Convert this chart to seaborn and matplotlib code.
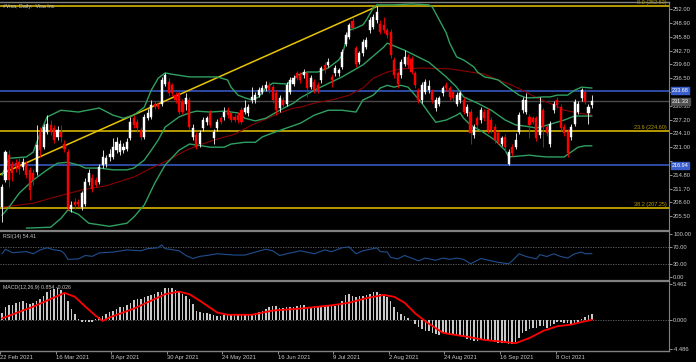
import numpy as np
import matplotlib
matplotlib.use('Agg')
import matplotlib.pyplot as plt
import seaborn as sns

# ---- daily candles, 22 Feb 2021 .. 21 Oct 2021 ----
opens = [207.6, 213.6, 219.2, 217.3, 217.5, 217.7, 216.6, 217.0, 215.8, 215.1,
         215.5, 224.1, 221.1, 224.5, 226.0, 225.2, 223.3, 224.5, 221.8, 220.0,
         207.2, 208.7, 208.7, 207.6, 208.3, 213.2, 214.0, 213.6, 213.2, 217.0,
         217.3, 218.8, 218.8, 220.3, 220.0, 220.3, 220.7, 223.0, 227.5, 226.7,
         224.8, 223.3, 227.5, 227.8, 230.8, 230.8, 230.8, 235.3, 235.7, 235.0,
         232.7, 233.1, 231.2, 230.8, 231.6, 223.3, 223.7, 221.8, 225.2, 226.7,
         228.6, 223.0, 225.2, 227.5, 227.8, 229.3, 228.6, 227.8, 228.2, 229.3,
         229.0, 228.6, 231.6, 231.6, 232.7, 233.5, 234.2, 235.0, 234.6, 233.1,
         229.7, 231.6, 230.8, 233.5, 235.3, 237.6, 237.2, 237.2, 237.6, 234.6,
         235.7, 235.0, 236.1, 239.5, 239.5, 236.8, 237.6, 237.6, 239.1, 244.3,
         245.8, 249.4, 243.2, 240.2, 242.1, 243.6, 247.3, 248.1, 249.6, 248.8,
         248.5, 247.3, 247.0, 240.6, 237.6, 237.2, 239.8, 241.3, 240.9, 237.6,
         233.8, 231.6, 233.5, 233.8, 233.5, 229.7, 230.8, 233.1, 235.0, 234.2,
         233.5, 230.8, 231.6, 231.6, 228.6, 229.0, 223.7, 227.5, 227.1, 229.0,
         229.3, 227.1, 225.6, 224.1, 221.8, 223.3, 217.3, 221.1, 221.1, 224.5,
         229.3, 229.0, 227.8, 227.5, 227.5, 223.7, 229.3, 225.6, 221.8, 229.3,
         231.6, 230.1, 225.6, 224.5, 223.3, 226.3, 229.0, 232.0, 233.5, 228.6,
         230.5]
highs = [212.8, 220.3, 220.3, 218.0, 218.3, 218.5, 218.5, 218.0, 216.5, 216.0,
         226.0, 225.6, 226.3, 228.2, 227.0, 226.0, 225.8, 226.0, 222.5, 220.5,
         209.0, 209.5, 209.3, 211.2, 214.0, 216.0, 215.0, 214.2, 217.3, 220.3,
         219.3, 220.5, 223.0, 223.2, 222.6, 222.0, 223.0, 227.8, 228.2, 227.3,
         225.5, 228.5, 229.5, 231.5, 231.3, 231.0, 236.8, 237.7, 236.5, 235.5,
         233.5, 233.6, 231.8, 233.1, 232.2, 226.3, 224.3, 224.8, 227.8, 228.0,
         229.3, 225.0, 227.3, 228.0, 230.1, 230.0, 229.2, 228.5, 228.8, 230.0,
         231.6, 230.8, 234.6, 233.4, 234.5, 235.0, 235.8, 235.6, 235.2, 233.8,
         232.7, 232.2, 235.7, 236.8, 237.2, 238.2, 237.8, 238.6, 238.2, 237.2,
         236.3, 235.6, 239.3, 240.1, 241.0, 237.4, 239.5, 238.9, 243.0, 246.8,
         249.0, 250.0, 243.8, 242.7, 245.3, 245.8, 250.2, 250.9, 252.7, 249.5,
         250.3, 247.9, 247.6, 241.2, 238.2, 240.8, 242.8, 241.9, 241.5, 238.2,
         234.4, 235.6, 236.3, 236.1, 234.1, 232.2, 232.6, 234.8, 235.6, 234.8,
         234.1, 233.3, 233.7, 232.2, 230.7, 229.6, 226.2, 228.1, 230.1, 229.6,
         229.9, 227.7, 226.2, 224.7, 223.6, 223.9, 220.6, 221.7, 224.1, 228.8,
         232.2, 233.1, 228.4, 228.1, 228.1, 232.3, 229.9, 226.2, 226.9, 231.4,
         232.2, 230.7, 226.2, 225.1, 226.2, 231.8, 231.4, 234.4, 234.1, 230.7,
         232.7]
lows = [204.2, 213.2, 212.1, 213.5, 215.5, 215.0, 215.8, 214.0, 209.1, 212.5,
        214.8, 218.8, 220.5, 224.0, 223.8, 222.0, 222.5, 222.2, 220.0, 206.9,
        206.5, 207.2, 207.6, 206.9, 207.8, 212.6, 211.0, 212.0, 212.7, 216.3,
        216.5, 218.0, 218.3, 219.6, 219.3, 219.8, 220.2, 222.5, 225.3, 224.5,
        222.7, 222.8, 227.0, 227.3, 229.5, 229.6, 230.3, 234.8, 232.5, 232.6,
        231.0, 228.5, 228.4, 229.3, 225.0, 222.6, 220.7, 221.0, 224.6, 226.0,
        225.5, 221.8, 224.7, 226.1, 227.2, 227.6, 226.6, 226.6, 226.5, 226.1,
        228.5, 228.0, 231.0, 231.0, 232.2, 233.0, 233.7, 233.2, 231.0, 228.2,
        229.0, 230.0, 230.3, 233.0, 234.8, 236.0, 235.5, 236.6, 232.3, 234.0,
        233.2, 233.2, 235.5, 237.7, 239.0, 234.6, 237.0, 237.0, 238.6, 243.7,
        245.3, 247.3, 239.1, 239.6, 241.5, 243.0, 246.7, 247.5, 249.0, 246.4,
        246.7, 245.6, 241.1, 236.6, 234.2, 236.6, 239.2, 238.9, 237.4, 234.4,
        231.0, 231.0, 233.0, 233.2, 231.0, 229.1, 230.2, 232.5, 233.6, 231.7,
        231.4, 230.2, 231.0, 228.4, 228.0, 221.8, 223.1, 225.4, 226.5, 226.9,
        224.2, 224.2, 222.0, 221.6, 221.2, 220.0, 217.1, 219.0, 220.5, 223.9,
        228.7, 228.4, 223.0, 226.1, 222.4, 223.1, 221.1, 223.5, 221.1, 228.7,
        229.9, 224.6, 223.5, 218.8, 222.7, 225.7, 228.4, 231.4, 230.6, 226.3,
        229.9]
closes = [212.1, 220.0, 213.6, 215.1, 216.6, 216.2, 217.7, 214.7, 211.3, 213.6,
          221.5, 220.3, 225.6, 226.3, 224.5, 222.6, 224.8, 223.3, 220.7, 207.6,
          208.0, 208.0, 208.2, 210.6, 213.2, 215.1, 211.7, 212.5, 216.6, 218.8,
          218.5, 219.4, 221.1, 222.2, 221.8, 221.1, 222.2, 226.7, 226.0, 225.2,
          223.3, 227.8, 228.6, 230.5, 230.1, 230.1, 236.1, 237.2, 233.1, 233.1,
          231.6, 229.0, 229.0, 232.0, 225.6, 225.2, 221.1, 224.1, 227.1, 227.5,
          226.0, 224.5, 226.7, 226.7, 229.0, 228.2, 227.1, 227.1, 227.1, 226.7,
          229.7, 230.1, 232.3, 232.7, 233.8, 234.2, 235.0, 233.8, 231.6, 229.3,
          232.0, 230.5, 235.0, 236.1, 236.5, 236.5, 236.1, 238.0, 234.2, 236.5,
          233.8, 233.8, 238.7, 238.3, 240.2, 236.1, 238.7, 238.3, 242.5, 246.2,
          248.5, 247.9, 239.8, 242.1, 244.7, 245.1, 249.6, 250.3, 251.5, 247.0,
          247.3, 246.2, 241.7, 237.2, 235.3, 240.2, 241.3, 239.5, 238.0, 235.0,
          231.6, 235.0, 235.7, 234.7, 231.6, 231.6, 232.0, 234.2, 234.2, 232.3,
          232.0, 232.7, 233.1, 229.0, 230.1, 224.1, 225.6, 226.0, 229.3, 227.5,
          224.8, 224.8, 222.6, 222.2, 223.0, 221.1, 220.0, 219.6, 222.6, 228.2,
          231.6, 231.6, 226.0, 226.7, 223.0, 230.8, 225.6, 224.1, 226.3, 230.8,
          230.5, 225.2, 224.1, 219.6, 225.6, 231.2, 230.8, 233.8, 231.2, 230.1,
          231.3]

date_labels = ['22 Feb 2021', '16 Mar 2021', '8 Apr 2021', '30 Apr 2021', '24 May 2021',
               '16 Jun 2021', '9 Jul 2021', '2 Aug 2021', '24 Aug 2021', '16 Sep 2021',
               '8 Oct 2021']

# Bollinger bands (20,2) and the dark red moving average, sampled at bar numbers
bb_upper_bar = [0, 2, 7, 9, 11, 13, 17, 22, 28, 32, 35, 38, 41, 43, 45, 47, 49, 54, 62, 65,
                66, 68, 70, 72, 74, 76, 78, 82, 84, 85, 88, 91, 94, 97, 98, 100, 102, 104, 105,
                107, 108, 113, 118, 123, 124, 126, 128, 129, 131, 133, 134, 136, 137, 139, 141,
                143, 145, 147, 149, 151, 153, 156, 158, 160, 163, 165, 167, 170]
bb_upper = [214.7, 218.5, 218.8, 219.9, 224.2, 227.8, 229.3, 228.9, 229.8, 228.2, 227.5,
            228.2, 230.0, 233.8, 236.5, 237.7, 237.4, 236.8, 236.8, 236.1, 234.5, 232.7,
            232.1, 231.6, 232.3, 234.3, 235.4, 235.2, 236.1, 237.2, 237.9, 237.9, 238.8,
            240.6, 241.7, 247.3, 247.8, 248.5, 249.6, 252.3, 253.0, 253.0, 253.2, 253.0,
            252.5, 249.6, 246.7, 244.4, 241.3, 240.6, 240.1, 239.0, 237.9, 236.8, 236.5,
            236.1, 234.9, 233.8, 232.7, 232.1, 232.1, 232.3, 232.3, 232.7, 232.7, 233.8,
            234.5, 234.3]
bb_mid_bar = [0, 2, 5, 9, 13, 16, 19, 22, 24, 28, 32, 36, 38, 41, 43, 45, 47, 51, 54, 56,
              60, 64, 68, 70, 73, 76, 80, 84, 86, 90, 98, 104, 110, 111, 116, 123, 128, 131,
              133, 137, 141, 145, 148, 151, 154, 156, 159, 162, 165, 170]
bb_mid = [205.7, 207.5, 210.7, 213.6, 215.9, 217.4, 217.6, 217.0, 216.3, 216.3, 215.9,
          215.9, 216.3, 218.1, 220.3, 222.6, 225.5, 227.8, 228.7, 229.1, 228.9, 229.1,
          228.7, 227.5, 226.9, 227.5, 229.3, 230.9, 232.1, 233.8, 236.8, 239.5, 243.5,
          244.4, 242.8, 240.1, 236.8, 234.5, 232.3, 230.9, 229.3, 227.1, 226.0, 225.7,
          225.3, 225.7, 226.4, 227.1, 228.0, 228.0]
bb_lower_bar = [7, 14, 17, 19, 22, 25, 31, 36, 38, 41, 44, 47, 51, 54, 56, 60, 64, 66, 70,
                73, 75, 78, 82, 86, 90, 94, 98, 102, 104, 107, 109, 111, 113, 115, 117, 119,
                121, 123, 125, 128, 131, 132, 133, 135, 139, 142, 145, 146, 149, 152, 154,
                157, 160, 162, 164, 166, 168, 170]
bb_lower = [202.8, 203.0, 205.0, 206.9, 205.9, 203.9, 203.2, 203.9, 205.3, 208.0, 212.9,
            217.0, 220.3, 221.7, 221.5, 221.0, 221.0, 221.7, 222.1, 222.1, 223.3, 224.2,
            225.3, 226.4, 228.2, 229.3, 229.3, 228.9, 231.6, 232.7, 234.3, 234.9, 234.5,
            234.9, 234.5, 232.7, 230.9, 228.7, 226.6, 227.1, 228.2, 228.7, 227.5, 226.0,
            224.2, 222.6, 220.3, 218.8, 219.0, 219.2, 219.0, 218.8, 218.8, 218.8, 219.9,
            221.0, 221.3, 221.3]
ma_bar = [0, 9, 14, 23, 30, 38, 43, 48, 53, 57, 61, 67, 72, 76, 80, 84, 86, 90, 96, 100,
          104, 107, 111, 115, 121, 129, 135, 139, 143, 147, 151, 154, 159, 162, 166, 170]
ma_val = [207.5, 208.4, 209.5, 211.4, 212.3, 214.3, 216.3, 218.1, 220.3, 221.5, 222.6,
          223.9, 226.0, 227.3, 228.7, 229.8, 230.0, 230.9, 231.8, 232.7, 234.3, 236.5,
          237.9, 238.6, 238.8, 238.6, 237.9, 237.4, 236.1, 234.9, 233.4, 232.1, 230.5,
          229.3, 228.7, 228.2]

# trend line and horizontal levels
trend_bar = [-1, 108]
trend_val = [214.7, 252.63]
fib_levels = [252.63, 224.60, 207.25]
fib_labels = ['0.0 (252.63)', '23.6 (224.60)', '38.2 (207.25)']
blue_levels = [233.68, 216.94]
last_price = 231.33
price_ticks = [252.00, 248.90, 245.80, 242.70, 239.60, 236.50, 233.40, 230.30, 227.20,
               224.10, 221.00, 217.90, 214.80, 211.70, 208.60, 205.50]
hidden_ticks = [233.40, 217.90]   # covered by the blue level boxes in the terminal

# RSI(14), sampled
rsi_bar = [0, 1, 3, 7, 9, 11, 13, 15, 17, 18, 19, 22, 24, 26, 28, 32, 36, 40, 42, 45, 46,
           47, 51, 53, 55, 57, 59, 62, 67, 70, 73, 76, 78, 80, 82, 86, 90, 93, 95, 98, 100,
           102, 104, 107, 108, 109, 111, 112, 114, 116, 118, 120, 122, 125, 127, 129, 131,
           133, 135, 138, 141, 143, 146, 147, 149, 151, 153, 154, 155, 157, 159, 161, 163,
           165, 167, 168, 170]
rsi_val = [54, 64.6, 56.4, 59, 54, 63, 68, 63, 61, 54, 41, 42, 50, 48, 56, 58, 63, 61, 66,
           68, 74.7, 66, 61, 50, 43, 48, 50, 54, 51, 51, 58, 64.6, 61, 50, 54, 61, 54, 63,
           59, 68, 70, 54, 61, 66, 68, 59, 58, 45.6, 42, 50, 44, 37.5, 44, 39, 44, 41, 44,
           41, 30.7, 43, 37.5, 34, 30.7, 37.5, 54, 47.6, 44, 42, 52, 47.6, 54, 47.6, 44,
           54, 58, 54, 54.41]

# MACD(12,26,9): histogram per bar and signal line samples
macd_hist = [1.0, 1.9, 2.2, 2.3, 2.5, 2.7, 2.8, 2.6, 2.4, 2.6,
             2.9, 3.2, 3.7, 4.3, 4.6, 4.7, 4.8, 4.6, 4.1, 2.8,
             1.7, 0.8, 0.1, -0.35, -0.4, -0.4, -0.4, 0.15, 0.35, 0.6,
             0.85, 1.2, 1.4, 1.7, 1.9, 2.0, 2.3, 2.6, 3.0, 3.2,
             3.2, 3.4, 3.6, 3.8, 4.0, 4.2, 4.3, 4.9, 4.9, 4.8,
             4.6, 4.2, 4.0, 3.7, 3.2, 2.4, 1.4, 1.2, 1.0, 1.0,
             0.85, 0.65, 0.5, 0.5, 0.65, 0.65, 0.7, 0.7, 0.75, 0.7,
             0.75, 0.8, 0.9, 1.0, 1.2, 1.4, 1.7, 2.0, 2.1, 2.1,
             1.8, 1.8, 1.9, 1.9, 2.0, 2.1, 2.2, 2.2, 2.0, 2.0,
             2.1, 2.0, 2.0, 2.1, 2.2, 2.2, 2.1, 2.3, 2.8, 3.8,
             3.9, 3.7, 3.5, 3.6, 3.7, 3.8, 3.9, 4.2, 4.2, 3.9,
             3.7, 3.5, 2.8, 2.0, 1.2, 0.9, 0.6, 0.2, -0.1, -0.6,
             -1.1, -1.5, -1.7, -1.8, -2.0, -2.2, -2.3, -2.0, -2.0, -2.3,
             -2.3, -2.3, -2.4, -2.7, -2.9, -3.1, -3.2, -3.3, -3.1, -3.1,
             -3.3, -3.3, -3.4, -3.5, -3.6, -3.6, -3.7, -3.7, -3.4, -2.8,
             -2.0, -1.7, -1.4, -1.3, -1.2, -1.0, -1.0, -1.2, -1.0, -0.65,
             -0.35, -0.35, -0.5, -0.5, -0.65, -0.6, -0.3, 0.1, 0.4, 0.7,
             0.854]
signal_bar = [0, 9, 18, 21, 24, 27, 29, 31, 38, 47, 51, 54, 57, 62, 65, 72, 78, 86, 95,
              100, 105, 110, 113, 116, 119, 122, 125, 127, 129, 134, 139, 143, 148, 152,
              156, 160, 164, 167, 170]
signal_val = [0.2, 2.0, 4.1, 3.5, 2.0, 0.6, -0.2, 0.35, 1.7, 3.9, 4.3, 3.9, 2.9, 1.1, 0.75,
              0.75, 1.4, 1.7, 2.2, 2.6, 3.3, 3.8, 3.5, 2.6, 1.0, -0.25, -1.3, -2.0, -2.2,
              -2.6, -3.1, -3.3, -3.6, -2.8, -1.7, -1.0, -0.75, -0.35, -0.026]

# ---- style ----
sns.set_style('dark')
plt.rcParams['font.family'] = ['Liberation Sans', 'DejaVu Sans']
FG = '#c8c8c8'
GRID = '#808080'
YELLOW = '#e8c400'
BLUE = '#3a5fcd'
GREEN = '#2fa060'

fig = plt.figure(figsize=(6.96, 3.62), dpi=100, facecolor='black')
W = 669 / 696
ax = fig.add_axes([0, 1 - 229 / 362, W, 227 / 362])
ax_rsi = fig.add_axes([0, 1 - 279 / 362, W, 48 / 362])
ax_macd = fig.add_axes([0, 1 - 351 / 362, W, 70 / 362])

for a in (ax, ax_rsi, ax_macd):
    a.set_facecolor('black')
    a.set_xlim(-0.58, 192.2)
    a.grid(False)
    for s in ('left', 'bottom'):
        a.spines[s].set_visible(False)
    a.spines['top'].set_color(GRID)
    a.spines['top'].set_linewidth(1.6)
    a.spines['right'].set_color(GRID)
    a.spines['right'].set_linewidth(0.8)
    a.yaxis.tick_right()
    a.tick_params(axis='y', colors=FG, labelsize=4.2, length=2, width=0.5, pad=1)
    a.tick_params(axis='x', bottom=False, labelbottom=False)
ax.spines['top'].set_linewidth(1.0)
ax_macd.spines['bottom'].set_visible(True)
ax_macd.spines['bottom'].set_color(GRID)
ax_macd.spines['bottom'].set_linewidth(1.0)

# ---- main price panel ----
ax.set_ylim(202.6, 253.64)
ax.set_yticks(price_ticks)
ax.set_yticklabels(['' if v in hidden_ticks else f'{v:.2f}' for v in price_ticks])

for lvl in fib_levels:
    ax.axhline(lvl, color=YELLOW, lw=1.1, zorder=2)
for lvl, lab in zip(fib_levels, fib_labels):
    ax.text(0.997, lvl + 0.35, lab, transform=ax.get_yaxis_transform(), ha='right',
            va='bottom', fontsize=4, color='#b89a00', zorder=6)
for lvl in blue_levels:
    ax.axhline(lvl, color=BLUE, lw=1.1, zorder=2)
ax.axhline(last_price, color='#4a4a4a', lw=1.0, zorder=1.5)

sns.lineplot(x=trend_bar, y=trend_val, ax=ax, color=YELLOW, linewidth=1.1,
             estimator=None, sort=False, legend=False)
sns.lineplot(x=ma_bar, y=ma_val, ax=ax, color='#8b0000', linewidth=0.8,
             estimator=None, sort=False, legend=False)
for bx, by in ((bb_upper_bar, bb_upper), (bb_mid_bar, bb_mid), (bb_lower_bar, bb_lower)):
    sns.lineplot(x=bx, y=by, ax=ax, color=GREEN, linewidth=1.0,
                 estimator=None, sort=False, legend=False)

idx = np.arange(len(closes))
o = np.array(opens)
c = np.array(closes)
up = c >= o
cols = np.where(up, 'white', '#ff0000')
ax.vlines(idx, lows, highs, colors=cols, linewidth=0.6, zorder=4)
ax.bar(idx, np.maximum(np.abs(c - o), 0.18), bottom=np.minimum(o, c), width=0.6,
       color=cols, edgecolor=cols, linewidth=0.3, zorder=5)

ax.text(0.004, 0.992, '#Visa, Daily:  Visa Inc', transform=ax.transAxes, ha='left',
        va='top', fontsize=3.8, color=FG)

def price_box(a, y, text, fc, tc):
    a.text(1.004, y, text, transform=a.get_yaxis_transform(), ha='left', va='center',
           fontsize=4.0, color=tc, clip_on=False, zorder=10,
           bbox=dict(boxstyle='square,pad=0.15', fc=fc, ec=fc))

price_box(ax, blue_levels[0], f'{blue_levels[0]:.2f}', BLUE, 'white')
price_box(ax, last_price, f'{last_price:.2f}', '#505050', 'white')
price_box(ax, blue_levels[1], f'{blue_levels[1]:.2f}', BLUE, 'white')

# ---- RSI panel ----
ax_rsi.set_ylim(-4.7, 107)
ax_rsi.set_yticks([0, 30, 70, 100])
ax_rsi.set_yticklabels(['0.00', '30.00', '70.00', '100.00'])
for lvl in (30, 70):
    ax_rsi.axhline(lvl, color='#6a6a6a', lw=0.6, ls=(0, (1.5, 1.5)))
sns.lineplot(x=rsi_bar, y=rsi_val, ax=ax_rsi, color='#1f4f8f', linewidth=0.8,
             estimator=None, sort=False, legend=False)
ax_rsi.text(0.004, 0.93, 'RSI(14) 54.41', transform=ax_rsi.transAxes, ha='left',
            va='top', fontsize=3.8, color=FG)

# ---- MACD panel ----
ax_macd.set_ylim(-4.79, 5.92)
ax_macd.set_yticks([-4.486, 0, 5.462])
ax_macd.set_yticklabels(['-4.486', '0.000', '5.462'])
ax_macd.axhline(0, color='#6a6a6a', lw=0.6, ls=(0, (1.5, 1.5)), zorder=1)
ax_macd.bar(np.arange(len(macd_hist)), macd_hist, width=0.45, color='#c8c8c8',
            linewidth=0, zorder=2)
sns.lineplot(x=signal_bar, y=signal_val, ax=ax_macd, color='#ff0000', linewidth=1.3,
             estimator=None, sort=False, legend=False, zorder=3)
ax_macd.text(0.004, 0.95, 'MACD(12,26,9) 0.854 -0.026', transform=ax_macd.transAxes,
             ha='left', va='top', fontsize=3.8, color=FG)

ax_macd.set_xticks(np.arange(len(date_labels)) * 16 - 0.5)
ax_macd.set_xticklabels(date_labels)
ax_macd.tick_params(axis='x', bottom=True, labelbottom=True, colors=FG, labelsize=4.2,
                    length=2, width=0.5, pad=1)
for lbl in ax_macd.get_xticklabels():
    lbl.set_ha('left')

fig.savefig('out.png', dpi=100, facecolor='black')
